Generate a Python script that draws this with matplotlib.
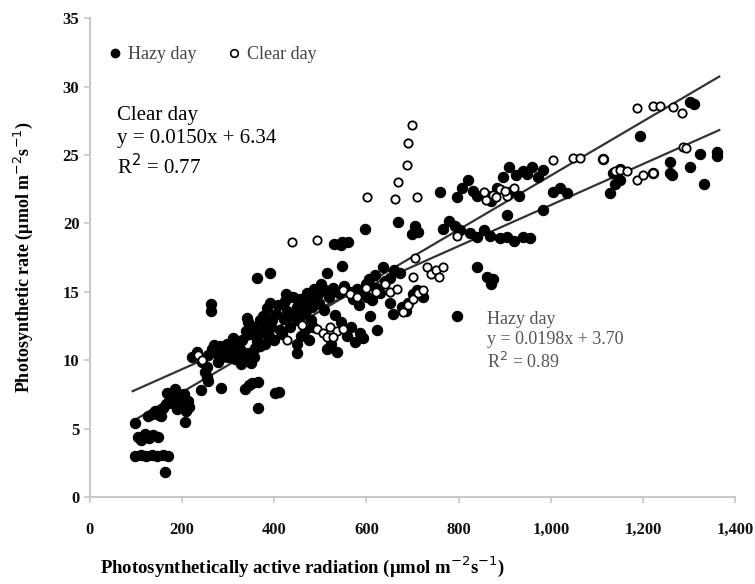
import numpy as np
import matplotlib
matplotlib.use("Agg")
import matplotlib.pyplot as plt
from matplotlib.lines import Line2D

# hazy day points (filled)
hazy_x = [98, 104, 112, 120, 128, 136, 148, 98, 110, 122, 134, 146, 158, 170, 163, 206,
          126, 135, 142, 150, 158, 165, 172, 180, 188, 196, 204, 212, 200, 190, 178, 168,
          155, 185, 208, 215, 241, 250, 256, 284, 336, 345, 352, 365, 365, 402, 410,
          262, 262, 256, 266, 274, 282, 290, 298, 306, 270, 286, 300,
          319, 326, 334, 342, 350, 358, 330, 338, 344, 340, 362, 372, 380, 388, 396, 404,
          412, 420, 428, 434, 376, 390, 368, 400, 416, 449, 456, 464, 472, 478, 486, 494,
          502, 510, 518, 449, 458, 466, 476, 484, 449, 514, 524, 536, 558, 566, 576, 586,
          593, 571, 580, 590, 598, 606, 564, 612, 620, 630, 636, 608, 623, 640,
          254, 254, 362, 390, 530, 545, 560, 597, 547, 514, 547,
          669, 699, 705, 712, 760, 797, 808, 820, 830, 840, 883, 895, 910, 925, 940,
          860, 870, 915, 930, 766, 780, 792, 803, 825, 840, 855, 868, 890, 905, 920,
          940, 955, 840, 862, 870, 875, 797, 690, 700, 710, 685, 723,
          948, 960, 972, 983, 1005, 1020, 1035, 983, 905, 1194, 1114, 1135, 1150, 1129,
          1140, 1150, 1222, 1259, 1259, 1302, 1324, 1361, 1361, 1331, 1302, 1310, 1263,
          # extra points filling the dense band
          310, 322, 348, 356, 384, 394, 408, 424, 440, 452, 468, 482, 496, 508, 528, 540,
          552, 584, 602, 618, 650, 660, 672, 658, 544, 532, 480, 460, 440, 426, 392, 370,
          314, 328, 380, 356, 244, 232, 222, 278, 294, 652, 678]
hazy_y = [5.4, 4.4, 4.2, 4.6, 4.3, 4.5, 4.4, 3.0, 3.1, 3.0, 3.1, 3.0, 3.1, 3.0, 1.8, 5.5,
          5.9, 6.1, 6.3, 6.0, 6.5, 6.8, 7.0, 7.3, 7.6, 7.2, 7.5, 7.0, 6.7, 6.4, 6.9, 7.6,
          5.9, 7.9, 6.3, 6.6, 7.8, 9.1, 8.5, 8.0, 7.9, 8.2, 8.3, 8.4, 6.5, 7.6, 7.7,
          13.6, 14.1, 10.4, 10.8, 10.5, 11.0, 10.6, 11.2, 10.8, 11.1, 10.2, 10.2,
          10.3, 10.8, 10.0, 10.5, 9.8, 10.9, 11.5, 12.1, 12.8, 13.1, 11.4, 12.0, 12.6, 11.8, 12.9, 13.4,
          12.2, 13.0, 13.6, 12.4, 13.2, 14.2, 12.9, 11.5, 11.9, 13.9, 14.5, 14.1, 14.9, 14.4, 15.2, 14.8,
          15.6, 15.1, 14.6, 11.2, 11.8, 12.2, 11.5, 12.4, 10.5, 10.8, 11.2, 10.6, 11.8, 12.4, 11.3, 12.0,
          11.6, 14.5, 15.2, 14.8, 15.6, 15.9, 15.0, 14.4, 15.3, 14.9, 16.8, 13.2, 12.2, 15.8,
          8.8, 9.5, 16.0, 16.4, 18.5, 18.4, 18.6, 19.6, 16.9, 16.4, 18.6,
          20.1, 19.2, 19.8, 19.4, 22.3, 21.9, 22.6, 23.2, 22.4, 22.0, 22.6, 23.4, 24.1, 23.5, 23.8,
          22.1, 21.6, 22.4, 22.0, 19.6, 20.2, 19.8, 19.5, 19.3, 19.0, 19.5, 19.1, 18.9, 19.0, 18.7,
          19.0, 18.9, 16.8, 16.1, 15.6, 15.9, 13.2, 14.2, 14.8, 15.1, 13.6, 14.6,
          23.6, 24.1, 23.4, 23.9, 22.3, 22.6, 22.2, 21.0, 20.6, 26.4, 24.7, 23.7, 24.0, 22.2,
          22.9, 23.2, 23.7, 24.5, 23.7, 24.1, 25.1, 25.2, 24.9, 22.9, 28.9, 28.7, 23.5,
          11.6, 11.2, 11.9, 12.4, 13.8, 13.1, 14.0, 14.3, 13.2, 12.9, 13.6, 13.9, 14.2, 13.7, 15.3, 14.9,
          15.4, 14.0, 14.6, 16.2, 16.0, 16.6, 16.4, 13.4, 12.8, 13.3, 12.9, 13.4, 14.6, 14.8, 12.4, 11.0,
          10.1, 9.7, 11.2, 10.2, 9.9, 10.6, 10.2, 9.9, 10.4, 14.2, 13.9]

# clear day points (open)
clear_x = [234, 244, 438, 492, 601, 662, 669, 688, 690, 699, 710, 705, 701, 731, 740, 750,
           758, 766, 651, 680, 690, 700, 712, 723, 549, 797, 860, 875, 890, 905, 920,
           1005, 1048, 1064, 1114, 1140, 1187, 1200, 1222, 1287, 1292, 1187, 1222, 1237,
           1265, 1285, 427, 492, 505, 520, 535, 549, 460, 564, 580, 600, 620, 640, 666,
           855, 880, 900, 1150, 1165, 514, 528]
clear_y = [10.4, 10.0, 18.6, 18.8, 21.9, 21.8, 23.0, 24.3, 25.9, 27.2, 21.9, 17.5, 16.1, 16.8, 16.3, 16.6,
           16.1, 16.8, 15.0, 13.5, 14.0, 14.5, 14.9, 15.1, 15.1, 19.1, 21.7, 22.1, 22.5, 22.0, 22.6,
           24.6, 24.8, 24.8, 24.7, 23.8, 23.2, 23.5, 23.7, 25.6, 25.5, 28.4, 28.6, 28.6,
           28.5, 28.1, 11.5, 12.3, 12.0, 12.4, 12.1, 12.3, 12.6, 14.8, 14.6, 15.3, 15.0, 15.6, 15.2,
           22.3, 21.9, 22.4, 23.9, 23.8, 11.7, 11.7]

# regression lines: slope, intercept, x range
clear_fit = (0.0150, 6.34, 93, 1365)
hazy_fit = (0.0198, 3.70, 98, 1365)

x_ticks = [0, 200, 400, 600, 800, 1000, 1200, 1400]
x_tick_labels = ["0", "200", "400", "600", "800", "1,000", "1,200", "1,400"]
y_ticks = [0, 5, 10, 15, 20, 25, 30, 35]

plt.rcParams['font.family'] = ['Liberation Serif', 'DejaVu Serif']

fig = plt.figure(figsize=(7.55, 5.84), dpi=100)
ax = fig.add_axes([0.119, 0.149, 0.855, 0.82])

for slope, icpt, x0, x1 in (clear_fit, hazy_fit):
    xs = np.array([x0, x1])
    ax.plot(xs, slope * xs + icpt, color='#333333', lw=1.6, zorder=1)

ax.scatter(hazy_x, hazy_y, s=55, c='black', edgecolors='black', linewidths=0.8, zorder=2)
ax.scatter(clear_x, clear_y, s=36, facecolors='white', edgecolors='black', linewidths=1.3, zorder=3)

ax.set_xlim(0, 1400)
ax.set_ylim(0, 35)
ax.set_xticks(x_ticks)
ax.set_xticklabels(x_tick_labels)
ax.set_yticks(y_ticks)

for side in ['top', 'right']:
    ax.spines[side].set_visible(False)
for side in ['left', 'bottom']:
    ax.spines[side].set_color('#c8c8c8')
    ax.spines[side].set_linewidth(1.5)
ax.tick_params(axis='both', colors='#c8c8c8', length=4, width=1.2, labelcolor='#111111',
               labelsize=12)
ax.tick_params(axis='x', pad=14)
for lab in ax.get_xticklabels() + ax.get_yticklabels():
    lab.set_fontweight('bold')

ax.set_xlabel("Photosynthetically active radiation (\u03bcmol m$^{-2}$s$^{-1}$)",
              fontsize=13.5, fontweight='bold', labelpad=12, x=0.33)
ax.set_ylabel("Photosynthetic rate (\u03bcmol m$^{-2}$s$^{-1}$)",
              fontsize=13, fontweight='bold', labelpad=20)

handles = [Line2D([], [], marker='o', ls='none', color='black', markersize=6),
           Line2D([], [], marker='o', ls='none', markerfacecolor='white',
                  markeredgecolor='black', markersize=5.5, markeredgewidth=1.2)]
leg = ax.legend(handles, ["Hazy day", "Clear day"], ncol=2, frameon=False,
                loc='upper left', bbox_to_anchor=(0.0, 0.975), fontsize=13,
                handletextpad=0.2, columnspacing=1.6, handlelength=1.0)
for t in leg.get_texts():
    t.set_color('#444444')

ax.text(58, 28.6, "Clear day\ny = 0.0150x + 6.34\nR$^2$ = 0.77", fontsize=15,
        color='black', va='top', ha='left', linespacing=1.3)
ax.text(862, 13.6, "Hazy day\ny = 0.0198x + 3.70\nR$^2$ = 0.89", fontsize=13,
        color='#555555', va='top', ha='left', linespacing=1.25)

fig.savefig("out.png", dpi=100)
